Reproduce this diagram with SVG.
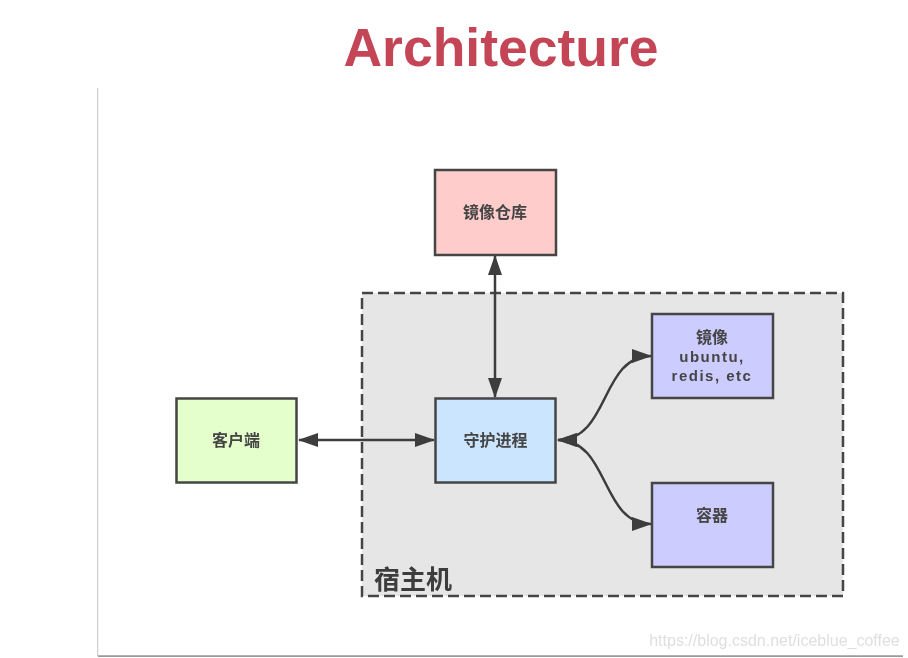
<svg xmlns="http://www.w3.org/2000/svg" width="908" height="658" viewBox="0 0 908 658">
<style>
.n{stroke:#444;stroke-width:2.500}
.t{font-family:"Liberation Sans","Noto Sans CJK SC",sans-serif;font-weight:700;font-size:16px;fill:#444;text-anchor:middle}
.l{font-size:15px;letter-spacing:1.500px}
.c{fill:none;stroke:#3c3c3c;stroke-width:2.500}
</style>
<defs>
<marker id="a" viewBox="0 0 20 14" refX="19" refY="7" markerWidth="20" markerHeight="14" markerUnits="userSpaceOnUse" orient="auto-start-reverse"><path d="M0 0L20 7L0 14Z" fill="#3c3c3c"/></marker>
<filter id="soft" x="0" y="0" width="100%" height="100%"><feGaussianBlur stdDeviation="0.6"/></filter>
</defs>
<rect width="908" height="658" fill="#fff"/>
<g filter="url(#soft)">
<path d="M97 88V656" fill="none" stroke="#cfcfcf" stroke-width="2.500"/>
<path d="M98 656.500H903" fill="none" stroke="#9a9a9a" stroke-width="2.500"/>
<text x="501" y="66" font-family="Liberation Sans,sans-serif" font-weight="700" font-size="53.500" fill="#c34557" text-anchor="middle">Architecture</text>
<g id="host"><rect x="362" y="293" width="481" height="303" fill="#e6e6e6" stroke="#444" stroke-width="2.500" stroke-dasharray="11 5"/>
<text x="413" y="589" font-family="Liberation Sans,Noto Sans CJK SC,sans-serif" font-weight="700" font-size="26" fill="#3c3c3c" text-anchor="middle">宿主机</text></g>
<g id="connectors">
<path class="c" marker-start="url(#a)" marker-end="url(#a)" d="M495 256V397"/>
<path class="c" marker-start="url(#a)" marker-end="url(#a)" d="M299 440H434"/>
<path class="c" marker-start="url(#a)" marker-end="url(#a)" d="M558 440C610 440 600 356 651 356"/>
<path class="c" marker-start="url(#a)" marker-end="url(#a)" d="M558 440C610 440 600 524 651 524"/>
</g>
<g id="registry"><rect class="n" x="435" y="170" width="121" height="85" fill="#ffcccc"/><text class="t" x="495" y="218">镜像仓库</text></g>
<g id="client"><rect class="n" x="176.500" y="398.500" width="120" height="84" fill="#e5ffcc"/><text class="t" x="236" y="446">客户端</text></g>
<g id="daemon"><rect class="n" x="435.500" y="398.500" width="120" height="84" fill="#cce5ff"/><text class="t" x="495.500" y="446">守护进程</text></g>
<g id="images"><rect class="n" x="652" y="314" width="121" height="84" fill="#ccccff"/><text class="t" x="712" y="343">镜像</text><text class="t l" x="712" y="362">ubuntu,</text><text class="t l" x="712" y="381">redis, etc</text></g>
<g id="container"><rect class="n" x="652" y="483" width="121" height="84" fill="#ccccff"/><text class="t" x="712" y="521">容器</text></g>
<text x="774.500" y="646" font-family="Liberation Sans,sans-serif" font-size="16" fill="#dfdfdf" text-anchor="middle">https://blog.csdn.net/iceblue_coffee</text>
</g>
</svg>
